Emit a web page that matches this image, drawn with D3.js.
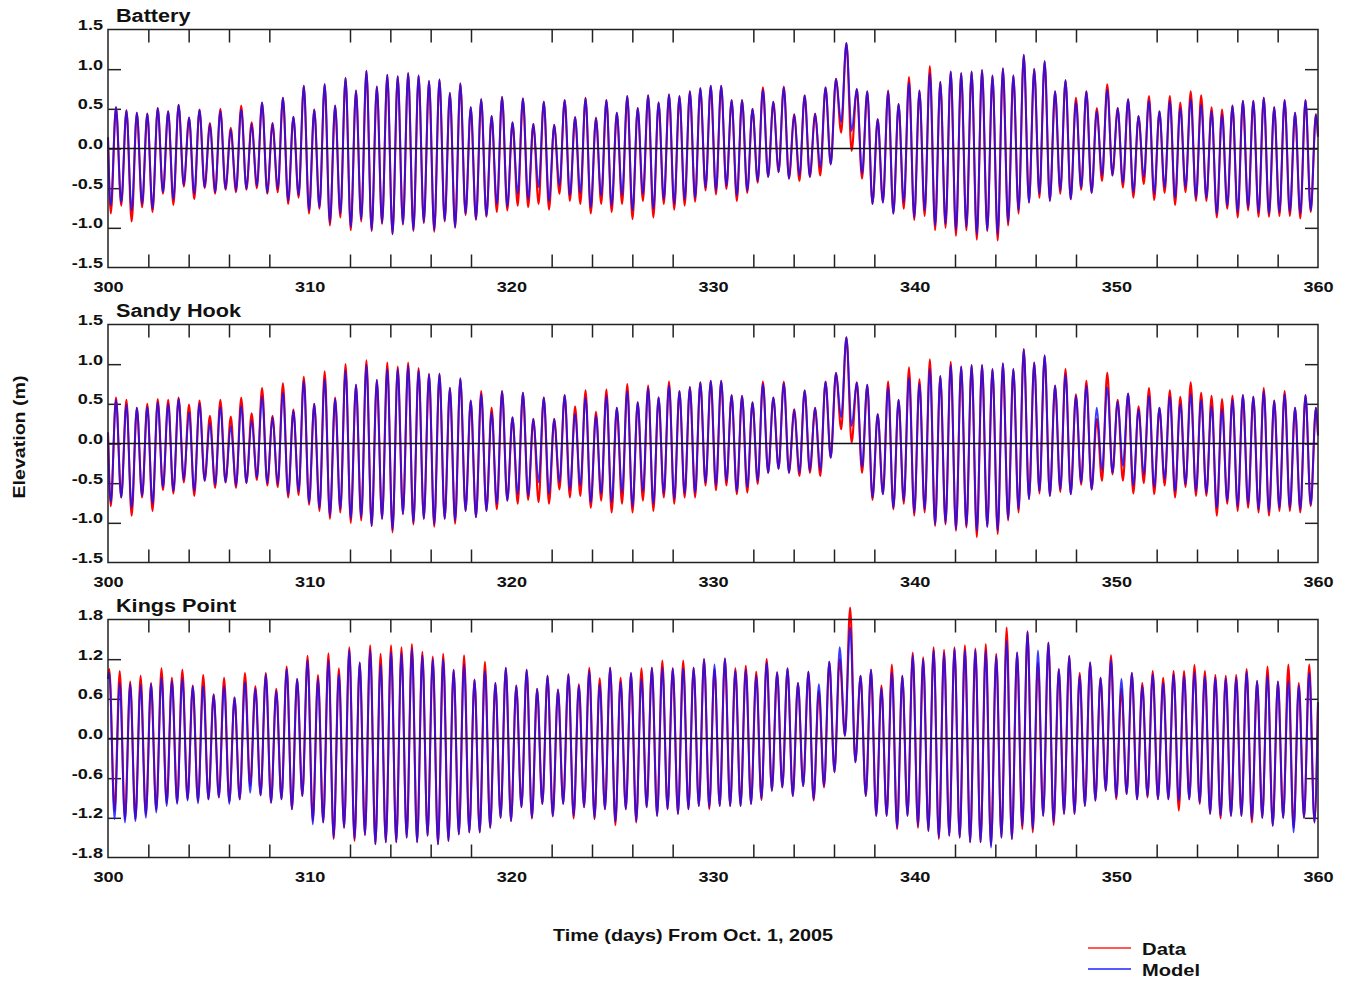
<!DOCTYPE html>
<html>
<head>
<meta charset="utf-8">
<script src="https://cdn.jsdelivr.net/npm/d3@7"></script>
<style>
  html, body { margin: 0; padding: 0; background: #fff; }
  svg { display: block; font-family: "Liberation Sans", Arial, sans-serif; font-weight: bold; }
</style>
</head>
<body>
<svg id="chart" width="1354" height="982"></svg>
<script>
// ---------------- data ----------------
// Tide elevations (m): successive high / low waters, one entry per tidal cycle.
const stationNames = ["Battery", "Sandy Hook", "Kings Point"];
const xLabelTicks = [300, 310, 320, 330, 340, 350, 360];
const xMinorTicks = [302, 304, 306, 308, 312, 314, 316, 318, 322, 324, 326, 328, 332, 334, 336, 338,
                     342, 344, 346, 348, 352, 354, 356, 358];
const yTicksMetre = [-1.5, -1.0, -0.5, 0.0, 0.5, 1.0, 1.5];
const yTicksKings = [-1.8, -1.2, -0.6, 0.0, 0.6, 1.2, 1.8];

// M2 tidal period (days) and time of the first turning point at each gauge
const TIDE_PERIOD = 0.5174;
const batteryFirst = 300.138;   // first extreme is a low water
const sandyFirst = 300.138;     // first extreme is a low water
const kingsFirst = 300.065;     // first extreme is a high water

const batteryModelHigh = [0.52,0.48,0.45,0.44,0.51,0.47,0.55,0.39,0.49,0.31,0.47,0.24,0.49,0.31,0.58,0.32,0.64,0.40,0.79,0.49,0.81,0.54,0.89,0.73,0.98,0.78,0.93,0.91,0.95,0.92,0.85,0.87,0.70,0.82,0.52,
  0.62,0.41,0.65,0.33,0.63,0.31,0.59,0.30,0.61,0.39,0.63,0.38,0.61,0.45,0.66,0.51,0.67,0.58,0.68,0.66,0.72,0.76,0.79,0.79,0.61,0.61,0.50,0.74,0.59,0.77,0.43,0.67,0.44,0.77,0.88,1.33,0.75,0.72,0.37,0.72,0.56,
  0.83,0.73,0.95,0.84,0.97,0.95,0.97,0.99,0.92,1.01,0.92,1.18,1.00,1.10,0.72,0.86,0.59,0.72,0.47,0.74,0.51,0.62,0.41,0.60,0.47,0.60,0.51,0.62,0.55,0.47,0.43,0.54,0.60,0.60,0.64,0.52,0.61,0.45,0.61,0.43];
const batteryModelLow = [-0.72,-0.68,-0.78,-0.70,-0.76,-0.55,-0.64,-0.46,-0.57,-0.49,-0.55,-0.51,-0.53,-0.51,-0.47,-0.56,-0.51,-0.66,-0.59,-0.78,-0.74,-0.93,-0.82,-0.99,-0.89,-1.03,-0.94,-1.08,-0.95,-1.03,-0.93,-1.03,-0.91,-0.99,-0.82,-0.89,
  -0.85,-0.70,-0.73,-0.57,-0.64,-0.49,-0.66,-0.47,-0.59,-0.56,-0.74,-0.59,-0.72,-0.59,-0.78,-0.57,-0.76,-0.64,-0.70,-0.64,-0.62,-0.49,-0.53,-0.47,-0.59,-0.53,-0.41,-0.36,-0.30,-0.38,-0.34,-0.36,-0.24,-0.20,0.33,0.22,-0.32,-0.70,-0.68,-0.82,
  -0.68,-0.87,-0.78,-0.97,-0.95,-1.03,-0.99,-1.08,-1.03,-1.08,-0.93,-0.78,-0.68,-0.57,-0.66,-0.53,-0.64,-0.49,-0.56,-0.34,-0.34,-0.43,-0.55,-0.36,-0.57,-0.49,-0.62,-0.49,-0.62,-0.62,-0.82,-0.72,-0.80,-0.74,-0.80,-0.82,-0.80,-0.80,-0.82,-0.78];
const batteryDataHigh = [0.52,0.48,0.45,0.44,0.51,0.47,0.55,0.39,0.49,0.32,0.50,0.26,0.54,0.33,0.58,0.32,0.64,0.40,0.79,0.49,0.81,0.54,0.89,0.73,0.98,0.78,0.93,0.91,0.95,0.92,0.85,0.87,0.70,0.82,0.52,
  0.62,0.41,0.65,0.33,0.63,0.31,0.59,0.30,0.61,0.40,0.64,0.39,0.61,0.45,0.66,0.51,0.67,0.58,0.68,0.66,0.72,0.76,0.79,0.79,0.61,0.61,0.50,0.77,0.59,0.78,0.43,0.67,0.44,0.77,0.88,1.33,0.75,0.72,0.37,0.73,0.56,
  0.90,0.73,1.04,0.84,0.97,0.95,0.97,0.99,0.92,1.01,0.92,1.18,1.00,1.10,0.72,0.86,0.64,0.72,0.51,0.81,0.51,0.62,0.41,0.66,0.47,0.66,0.58,0.72,0.67,0.52,0.49,0.54,0.60,0.60,0.64,0.52,0.61,0.45,0.61,0.43];
const batteryDataLow = [-0.82,-0.72,-0.92,-0.74,-0.80,-0.57,-0.71,-0.48,-0.64,-0.50,-0.57,-0.52,-0.55,-0.52,-0.50,-0.57,-0.55,-0.70,-0.62,-0.82,-0.76,-0.97,-0.87,-1.03,-0.92,-1.04,-0.95,-1.08,-0.96,-1.04,-0.94,-1.05,-0.92,-1.00,-0.84,-0.90,
  -0.86,-0.80,-0.78,-0.72,-0.74,-0.70,-0.77,-0.57,-0.66,-0.70,-0.82,-0.70,-0.80,-0.70,-0.89,-0.66,-0.87,-0.70,-0.77,-0.72,-0.67,-0.53,-0.58,-0.51,-0.66,-0.56,-0.43,-0.36,-0.30,-0.38,-0.41,-0.36,-0.34,-0.20,0.20,-0.03,-0.38,-0.70,-0.68,-0.82,
  -0.76,-0.90,-0.85,-1.03,-1.00,-1.10,-1.03,-1.15,-1.04,-1.16,-0.97,-0.82,-0.68,-0.62,-0.66,-0.57,-0.64,-0.52,-0.56,-0.41,-0.34,-0.49,-0.62,-0.45,-0.65,-0.56,-0.71,-0.55,-0.66,-0.66,-0.87,-0.76,-0.87,-0.78,-0.86,-0.86,-0.85,-0.85,-0.88,-0.80];
const batteryEnds = [0.14, 0.15];

const sandyModelHigh = [0.55,0.49,0.45,0.46,0.52,0.50,0.56,0.39,0.50,0.26,0.46,0.22,0.47,0.29,0.59,0.33,0.64,0.41,0.79,0.50,0.81,0.56,0.92,0.74,0.99,0.80,0.94,0.94,0.98,0.92,0.87,0.88,0.70,0.82,0.54,
  0.62,0.39,0.66,0.33,0.64,0.31,0.58,0.31,0.61,0.37,0.58,0.35,0.60,0.45,0.66,0.52,0.70,0.58,0.73,0.66,0.71,0.77,0.79,0.79,0.61,0.60,0.52,0.75,0.58,0.76,0.43,0.67,0.45,0.78,0.89,1.34,0.77,0.74,0.37,0.71,0.55,
  0.83,0.75,0.94,0.85,0.99,0.97,0.99,0.99,0.94,1.01,0.94,1.19,1.02,1.11,0.73,0.87,0.60,0.73,0.45,0.71,0.53,0.63,0.43,0.60,0.45,0.59,0.50,0.62,0.55,0.47,0.43,0.55,0.61,0.59,0.66,0.54,0.62,0.45,0.61,0.45];
const sandyModelLow = [-0.74,-0.68,-0.81,-0.66,-0.76,-0.55,-0.60,-0.46,-0.60,-0.47,-0.52,-0.49,-0.53,-0.50,-0.43,-0.50,-0.51,-0.64,-0.60,-0.74,-0.81,-0.91,-0.83,-0.95,-0.93,-1.04,-0.95,-1.09,-0.89,-1.00,-0.95,-1.02,-0.95,-0.97,-0.85,-0.93,
  -0.85,-0.76,-0.72,-0.64,-0.66,-0.49,-0.63,-0.49,-0.58,-0.53,-0.74,-0.63,-0.74,-0.62,-0.79,-0.60,-0.76,-0.63,-0.70,-0.63,-0.62,-0.49,-0.53,-0.47,-0.60,-0.55,-0.47,-0.37,-0.32,-0.37,-0.37,-0.34,-0.34,-0.18,0.33,0.22,-0.30,-0.68,-0.64,-0.81,
  -0.72,-0.87,-0.83,-1.02,-1.00,-1.08,-1.04,-1.10,-1.05,-1.10,-0.95,-0.83,-0.70,-0.60,-0.66,-0.58,-0.64,-0.49,-0.58,-0.34,-0.37,-0.28,-0.53,-0.39,-0.55,-0.45,-0.60,-0.51,-0.60,-0.62,-0.81,-0.72,-0.79,-0.76,-0.83,-0.85,-0.81,-0.81,-0.83,-0.77];
const sandyDataHigh = [0.58,0.55,0.45,0.50,0.56,0.55,0.58,0.49,0.54,0.35,0.55,0.34,0.58,0.38,0.70,0.35,0.76,0.43,0.84,0.50,0.91,0.58,1.00,0.74,1.05,0.80,1.02,0.97,1.02,0.95,0.88,0.88,0.70,0.82,0.54,
  0.66,0.45,0.66,0.33,0.64,0.31,0.58,0.31,0.61,0.47,0.67,0.40,0.68,0.45,0.75,0.52,0.73,0.58,0.78,0.66,0.71,0.77,0.79,0.79,0.61,0.60,0.52,0.78,0.58,0.78,0.43,0.67,0.45,0.78,0.89,1.34,0.77,0.74,0.37,0.78,0.55,
  0.96,0.81,1.06,0.85,1.03,0.97,0.99,0.99,0.94,1.01,0.94,1.19,1.02,1.11,0.73,0.94,0.62,0.79,0.31,0.89,0.55,0.63,0.47,0.70,0.45,0.67,0.59,0.77,0.64,0.60,0.56,0.60,0.61,0.59,0.70,0.54,0.66,0.45,0.61,0.45];
const sandyDataLow = [-0.79,-0.68,-0.91,-0.68,-0.85,-0.59,-0.63,-0.49,-0.66,-0.47,-0.56,-0.49,-0.56,-0.50,-0.46,-0.53,-0.55,-0.68,-0.65,-0.77,-0.85,-0.95,-0.87,-1.00,-0.97,-1.04,-0.95,-1.12,-0.89,-1.02,-0.95,-1.05,-0.95,-1.01,-0.85,-0.93,
  -0.85,-0.83,-0.72,-0.76,-0.71,-0.74,-0.76,-0.58,-0.68,-0.66,-0.81,-0.72,-0.87,-0.76,-0.87,-0.72,-0.85,-0.68,-0.76,-0.68,-0.68,-0.53,-0.59,-0.53,-0.64,-0.62,-0.51,-0.37,-0.32,-0.37,-0.41,-0.37,-0.41,-0.18,0.18,0.01,-0.37,-0.71,-0.64,-0.83,
  -0.76,-0.91,-0.87,-1.04,-1.02,-1.10,-1.06,-1.18,-1.05,-1.14,-0.97,-0.87,-0.70,-0.63,-0.66,-0.61,-0.64,-0.52,-0.58,-0.47,-0.39,-0.47,-0.63,-0.50,-0.64,-0.53,-0.68,-0.55,-0.66,-0.66,-0.91,-0.76,-0.85,-0.81,-0.87,-0.91,-0.85,-0.85,-0.87,-0.79];
const sandyEnds = [0.14, 0.10];

const kingsModelHigh = [0.99,0.84,0.82,0.81,0.82,0.92,0.87,0.91,0.79,0.79,0.66,0.79,0.62,0.85,0.75,0.97,0.72,1.05,0.90,1.18,0.90,1.18,0.97,1.34,1.15,1.34,1.12,1.31,1.29,1.36,1.26,1.20,1.20,1.04,1.12,0.89,
  1.02,0.84,1.07,0.80,1.04,0.75,0.95,0.74,0.97,0.80,1.02,0.82,1.07,0.86,0.99,0.90,1.07,1.07,1.06,1.06,1.07,1.20,1.12,1.21,1.02,1.04,0.95,1.15,1.00,1.06,0.84,1.01,0.82,1.16,1.38,1.68,0.95,1.04,0.76,1.00,
  0.95,1.26,1.20,1.34,1.29,1.36,1.34,1.34,1.33,1.25,1.48,1.30,1.62,1.33,1.45,1.05,1.25,0.95,1.15,0.92,1.19,0.90,0.99,0.79,0.97,0.84,0.97,0.95,1.00,0.94,0.92,0.91,0.92,1.01,0.87,0.95,0.86,0.87,0.80,0.99];
const kingsModelLow = [-1.22,-1.27,-1.25,-1.20,-1.12,-1.02,-0.99,-0.94,-0.98,-0.92,-0.89,-0.99,-0.92,-0.82,-0.86,-0.97,-0.92,-1.07,-0.87,-1.30,-1.27,-1.50,-1.35,-1.52,-1.46,-1.60,-1.57,-1.57,-1.50,-1.57,-1.47,-1.60,-1.55,-1.45,-1.42,
  -1.42,-1.35,-1.20,-1.25,-1.04,-1.20,-0.99,-1.17,-0.99,-1.17,-1.04,-1.20,-1.07,-1.26,-1.07,-1.25,-1.04,-1.17,-1.07,-1.14,-1.07,-1.02,-1.04,-1.02,-1.02,-1.02,-0.99,-0.91,-0.79,-0.74,-0.87,-0.72,-0.92,-0.72,-0.51,0.04,-0.36,-0.87,-1.17,-1.17,-1.35,
  -1.17,-1.32,-1.40,-1.50,-1.47,-1.50,-1.57,-1.57,-1.65,-1.50,-1.52,-1.32,-1.37,-1.17,-1.27,-1.14,-1.14,-1.02,-0.94,-0.79,-0.89,-0.84,-0.92,-0.87,-0.92,-0.92,-0.94,-0.92,-0.97,-1.14,-1.17,-1.17,-1.17,-1.22,-1.20,-1.32,-1.20,-1.42,-1.20,-1.27];
const kingsDataHigh = [1.05,1.02,0.86,0.95,0.84,1.06,0.92,1.04,0.80,0.96,0.67,0.92,0.62,0.99,0.79,0.99,0.75,1.09,0.90,1.25,0.96,1.29,1.06,1.38,1.15,1.41,1.28,1.41,1.38,1.43,1.31,1.24,1.28,1.04,1.26,0.89,
  1.16,0.84,1.07,0.80,1.04,0.75,0.95,0.74,0.97,0.82,1.07,0.91,1.07,0.92,0.99,1.06,1.07,1.18,1.06,1.18,1.07,1.20,1.05,1.21,1.06,1.10,1.01,1.20,1.00,1.06,0.84,1.01,0.72,1.16,1.20,1.98,0.95,1.04,0.80,1.12,
  0.95,1.30,1.23,1.38,1.34,1.38,1.41,1.36,1.43,1.28,1.68,1.30,1.62,1.15,1.45,1.05,1.25,0.99,1.15,0.92,1.26,0.75,0.99,0.84,1.02,0.92,1.02,1.02,1.11,1.02,0.96,0.95,0.96,1.05,0.87,1.09,0.86,1.12,0.84,1.12];
const kingsDataLow = [-1.10,-1.22,-1.22,-1.15,-1.08,-0.98,-0.97,-0.92,-0.95,-0.92,-0.89,-0.96,-0.92,-0.72,-0.86,-0.97,-0.92,-1.07,-0.87,-1.25,-1.27,-1.52,-1.35,-1.55,-1.46,-1.60,-1.57,-1.57,-1.50,-1.57,-1.47,-1.60,-1.55,-1.45,-1.42,
  -1.42,-1.35,-1.20,-1.25,-1.04,-1.21,-0.99,-1.18,-0.99,-1.21,-1.04,-1.22,-1.07,-1.31,-1.07,-1.27,-1.04,-1.17,-1.07,-1.14,-1.07,-1.02,-1.07,-1.02,-1.02,-1.02,-0.99,-0.93,-0.79,-0.74,-0.87,-0.72,-0.94,-0.74,-0.51,0.04,-0.36,-0.87,-1.17,-1.17,-1.37,
  -1.17,-1.35,-1.40,-1.52,-1.47,-1.50,-1.57,-1.57,-1.62,-1.50,-1.52,-1.37,-1.42,-1.17,-1.31,-1.14,-1.14,-1.02,-0.94,-0.79,-0.92,-0.84,-0.92,-0.89,-0.92,-0.92,-1.09,-0.92,-0.99,-1.14,-1.21,-1.17,-1.17,-1.27,-1.20,-1.32,-1.20,-1.35,-1.20,-1.27];
const kingsEnds = [0.90, 0.55];

// ---------------- layout ----------------
const svg = d3.select("#chart");
const plotLeft = 108, plotRight = 1318, plotH = 238;
const panelTops = [29.5, 324.5, 619.5];
const TEXT_STRETCH = 1.17;
const HALF = TIDE_PERIOD / 2;

const x = d3.scaleLinear().domain([300, 360]).range([plotLeft, plotRight]);

// Turning points in time order, bracketed by the values at the window edges.
function tideSeries(firstTime, lowFirst, highs, lows, ends) {
  const pts = [{ t: 300, v: ends[0] }];
  let i = 0;
  highs.forEach((h, k) => {
    const pair = lowFirst ? [lows[k], h] : [h, lows[k]];
    pair.forEach(v => { pts.push({ t: firstTime + i * HALF, v }); i++; });
  });
  pts.push({ t: 360, v: ends[1] });
  return pts;
}

const panels = [
  { name: stationNames[0], ticks: yTicksMetre,
    data: tideSeries(batteryFirst, true, batteryDataHigh, batteryDataLow, batteryEnds),
    model: tideSeries(batteryFirst, true, batteryModelHigh, batteryModelLow, batteryEnds) },
  { name: stationNames[1], ticks: yTicksMetre,
    data: tideSeries(sandyFirst, true, sandyDataHigh, sandyDataLow, sandyEnds),
    model: tideSeries(sandyFirst, true, sandyModelHigh, sandyModelLow, sandyEnds) },
  { name: stationNames[2], ticks: yTicksKings,
    data: tideSeries(kingsFirst, false, kingsDataHigh, kingsDataLow, kingsEnds),
    model: tideSeries(kingsFirst, false, kingsModelHigh, kingsModelLow, kingsEnds) }
];

// one decimal, plain hyphen for negatives
const fmt = v => d3.format(".1f")(v).replace("\u2212", "-");

panels.forEach((p, idx) => {
  const top = panelTops[idx], bottom = top + plotH;
  const ext = d3.extent(p.ticks);
  const y = d3.scaleLinear().domain(ext).range([bottom, top]);
  const g = svg.append("g");

  // inner tick marks on all four sides
  const tickStyle = sel => {
    sel.select(".domain").remove();
    sel.selectAll("line").attr("stroke", "#222").attr("stroke-width", 1.5);
  };
  g.append("g").attr("transform", `translate(0,${bottom})`)
    .call(d3.axisBottom(x).tickValues(xMinorTicks).tickSize(-13).tickFormat(""))
    .call(tickStyle);
  g.append("g").attr("transform", `translate(0,${top})`)
    .call(d3.axisTop(x).tickValues(xMinorTicks).tickSize(-13).tickFormat(""))
    .call(tickStyle);
  const inner = p.ticks.slice(1, -1);
  g.append("g").attr("transform", `translate(${plotLeft},0)`)
    .call(d3.axisLeft(y).tickValues(inner).tickSize(-13).tickFormat(""))
    .call(tickStyle);
  g.append("g").attr("transform", `translate(${plotRight},0)`)
    .call(d3.axisRight(y).tickValues(inner).tickSize(-13).tickFormat(""))
    .call(tickStyle);

  // tick labels
  const yLab = g.append("g").attr("transform", `translate(${plotLeft - 5},0)`)
    .call(d3.axisLeft(y).tickValues(p.ticks).tickSize(0).tickPadding(0).tickFormat(fmt));
  yLab.select(".domain").remove();
  yLab.attr("font-family", null).attr("font-size", null);
  yLab.selectAll("text")
    .attr("x", 0).attr("y", -5)
    .attr("font-size", 15.5).attr("fill", "#111")
    .attr("transform", `scale(${TEXT_STRETCH},1)`);

  const xLab = g.append("g").attr("transform", `translate(0,${bottom})`)
    .call(d3.axisBottom(x).tickValues(xLabelTicks).tickSize(0).tickFormat(d3.format("d")));
  xLab.select(".domain").remove();
  xLab.attr("font-family", null).attr("font-size", null);
  xLab.selectAll("text")
    .attr("y", 25).attr("dy", null)
    .attr("font-size", 15.5).attr("fill", "#111")
    .attr("transform", `scale(${TEXT_STRETCH},1)`);

  // curves: observed data underneath, model on top
  const line = d3.line().x(d => x(d.t)).y(d => y(d.v)).curve(d3.curveMonotoneX);
  g.append("path").datum(p.data).attr("d", line)
    .attr("fill", "none").attr("stroke", "#ff0000").attr("stroke-width", 2.1)
    .attr("stroke-linejoin", "round");
  g.append("path").datum(p.model).attr("d", line)
    .attr("fill", "none").attr("stroke", "#1010ff").attr("stroke-width", 1.9)
    .attr("stroke-opacity", 0.82).attr("stroke-linejoin", "round");

  // zero line and frame
  g.append("line").attr("x1", plotLeft).attr("x2", plotRight)
    .attr("y1", y(0)).attr("y2", y(0)).attr("stroke", "#111").attr("stroke-width", 1.5);
  g.append("rect").attr("x", plotLeft).attr("y", top)
    .attr("width", plotRight - plotLeft).attr("height", plotH)
    .attr("fill", "none").attr("stroke", "#222").attr("stroke-width", 1.5);

  // station title
  g.append("text").attr("transform", `translate(116,${top - 7.5}) scale(${TEXT_STRETCH},1)`)
    .attr("font-size", 18.5).attr("fill", "#111").text(p.name);
});

// axis titles
svg.append("text").attr("x", 693).attr("y", 941).attr("text-anchor", "middle")
  .attr("font-size", 17).attr("textLength", 280).attr("lengthAdjust", "spacingAndGlyphs")
  .attr("fill", "#111").text("Time (days) From Oct. 1, 2005");
svg.append("text").attr("transform", "translate(25,437) rotate(-90)").attr("text-anchor", "middle")
  .attr("font-size", 16).attr("textLength", 123).attr("lengthAdjust", "spacingAndGlyphs")
  .attr("fill", "#111").text("Elevation (m)");

// legend
const legendItems = [
  { label: "Data", color: "#ff2020", y: 948, len: 44 },
  { label: "Model", color: "#2020ff", y: 969, len: 58 }
];
const lg = svg.append("g");
legendItems.forEach(d => {
  lg.append("line").attr("x1", 1088).attr("x2", 1131).attr("y1", d.y).attr("y2", d.y)
    .attr("stroke", d.color).attr("stroke-width", 1.5);
  lg.append("text").attr("x", 1142).attr("y", d.y + 7).attr("font-size", 17)
    .attr("textLength", d.len).attr("lengthAdjust", "spacingAndGlyphs")
    .attr("fill", "#111").text(d.label);
});
</script>
</body>
</html>
